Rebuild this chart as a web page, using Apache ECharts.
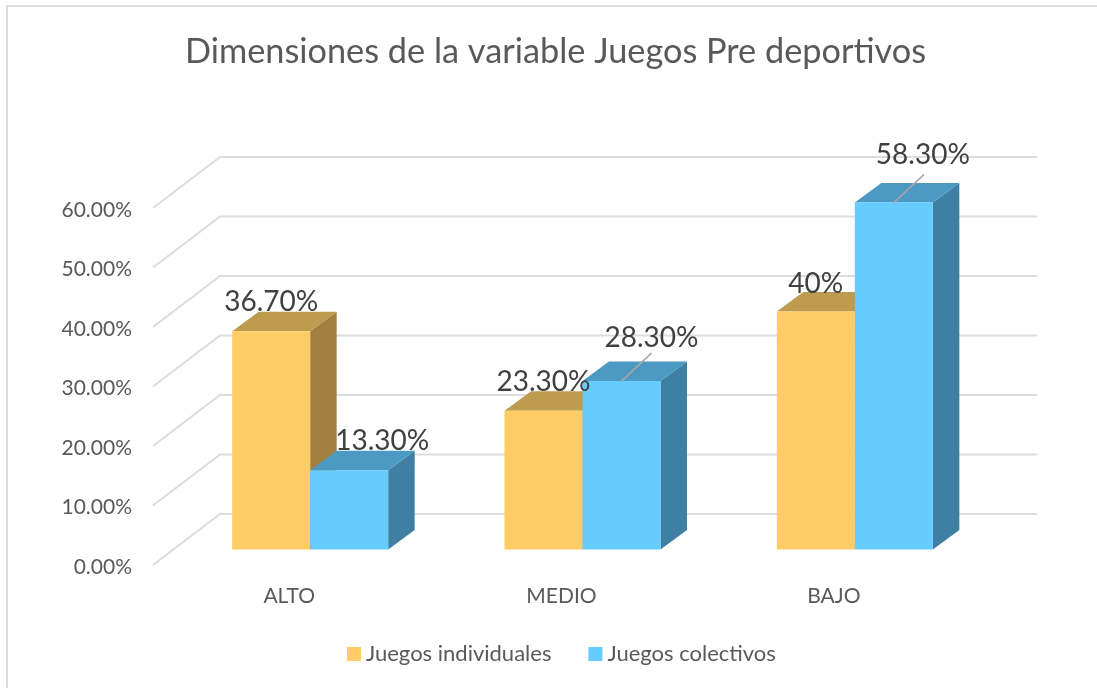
<!DOCTYPE html>
<html>
<head>
<meta charset="utf-8">
<title>Dimensiones de la variable Juegos Pre deportivos</title>
<script src="https://cdn.jsdelivr.net/npm/echarts@6/dist/echarts.min.js"></script>
<style>
  html, body { margin: 0; padding: 0; background: #fff; }
  #chart { width: 1097px; height: 688px; }
</style>
</head>
<body>
<div id="chart"></div>
<script>
const categories = ['ALTO', 'MEDIO', 'BAJO'];
const individuales = [36.7, 23.3, 40];
const colectivos = [13.3, 28.3, 58.3];
const individualesLabels = ['36.70%', '23.30%', '40%'];
const colectivosLabels = ['13.30%', '28.30%', '58.30%'];
const yTicks = [0, 10, 20, 30, 40, 50, 60];

// label placement relative to the top centre of each bar's front face
const individualesLabelPos = [[0, -29], [0, -29], [0, -28]];
const colectivosLabelPos = [[33, -29], [30, -43], [29, -48]];
// only these get a leader line
const colectivosLeader = [false, true, true];

const FONT = 'Lato, "Open Sans", sans-serif';
const WALL = [67, -51];    // back wall offset from the front plane
const FLOOR = [21, -15.5]; // bar front offset from the front plane
const DEPTH = [26.5, -19.5];
const BAR_W = 78;

const orange = { front: '#FFCC66', top: '#BF9B50', side: '#A37F40' };
const blue = { front: '#66CCFF', top: '#4C9AC3', side: '#3F7FA4' };

function poly(points, fill) {
  return { type: 'polygon', shape: { points }, style: { fill } };
}

// one 3D column, side = -1 left of the category centre, 0 right of it
function barRenderer(col, side) {
  return function (params, api) {
    const base = api.coord([api.value(0), 0]);
    const top = api.coord([api.value(0), api.value(1)]);
    const x0 = base[0] + FLOOR[0] + side * BAR_W;
    const x1 = x0 + BAR_W;
    const y0 = base[1] + FLOOR[1];
    const y1 = top[1] + FLOOR[1];
    const dx = DEPTH[0], dy = DEPTH[1];
    return {
      type: 'group',
      children: [
        poly([[x1, y0], [x1 + dx, y0 + dy], [x1 + dx, y1 + dy], [x1, y1]], col.side),
        poly([[x0, y1], [x1, y1], [x1 + dx, y1 + dy], [x0 + dx, y1 + dy]], col.top),
        poly([[x0, y0], [x1, y0], [x1, y1], [x0, y1]], col.front)
      ]
    };
  };
}

function labelRenderer(texts, pos, leaders, side) {
  return function (params, api) {
    const i = params.dataIndex;
    const top = api.coord([api.value(0), api.value(1)]);
    const cx = top[0] + FLOOR[0] + side * BAR_W + BAR_W / 2;
    const cy = top[1] + FLOOR[1];
    const children = [];
    if (leaders && leaders[i]) {
      children.push({
        type: 'line',
        shape: { x1: cx, y1: cy, x2: cx + 30, y2: cy - 28 },
        style: { stroke: '#A6A6A6', lineWidth: 1.5 }
      });
    }
    children.push({
      type: 'text',
      x: cx + pos[i][0],
      y: cy + pos[i][1],
      style: {
        text: texts[i],
        fill: '#404040',
        font: '28px ' + FONT,
        align: 'center',
        verticalAlign: 'middle'
      }
    });
    return { type: 'group', children };
  };
}

function wallRenderer(params, api) {
  const y = api.coord([0, api.value(1)])[1];
  const r = params.coordSys;
  return {
    type: 'polyline',
    shape: { points: [[r.x, y], [r.x + WALL[0], y + WALL[1]], [r.x + WALL[0] + r.width, y + WALL[1]]] },
    style: { stroke: '#DDDDDD', lineWidth: 2, fill: 'none' }
  };
}

const chart = echarts.init(document.getElementById('chart'));
chart.setOption({
  animation: false,
  backgroundColor: '#fff',
  title: {
    text: 'Dimensiones de la variable Juegos Pre deportivos',
    left: 180,
    top: 30,
    textStyle: { fontFamily: FONT, fontSize: 34.3, fontWeight: 'normal', color: '#595959' }
  },
  legend: {
    data: ['Juegos individuales', 'Juegos colectivos'],
    left: 347,
    top: 643,
    padding: 0,
    icon: 'rect',
    itemWidth: 14,
    itemHeight: 14,
    itemGap: 37,
    textStyle: { fontFamily: FONT, fontSize: 22, color: '#595959' }
  },
  grid: { left: 153, top: 208, width: 817, height: 357 },
  xAxis: {
    type: 'category',
    data: categories,
    axisLine: { show: false },
    axisTick: { show: false },
    axisLabel: { fontFamily: FONT, fontSize: 21, color: '#595959', margin: 21 }
  },
  yAxis: {
    type: 'value',
    min: 0,
    max: 60,
    interval: 10,
    splitLine: { show: false },
    axisLine: { show: false },
    axisTick: { show: false },
    axisLabel: {
      margin: 21,
      formatter: v => '{t|' + v.toFixed(2) + '%}',
      rich: { t: { fontFamily: FONT, fontSize: 21, color: '#595959', padding: [4, 0, 0, 0] } }
    }
  },
  graphic: [{
    type: 'polyline',
    silent: true,
    shape: { points: [[7, 688], [7, 6], [1097, 6]] },
    style: { stroke: '#DDDDDD', lineWidth: 2, fill: 'none' }
  }],
  series: [
    {
      type: 'custom', name: 'wall', silent: true, z: 1,
      renderItem: wallRenderer,
      encode: { x: 0, y: 1 },
      data: yTicks.map(t => [0, t])
    },
    {
      type: 'custom', name: 'Juegos individuales', z: 2,
      itemStyle: { color: orange.front },
      renderItem: barRenderer(orange, -1),
      encode: { x: 0, y: 1 },
      data: individuales.map((v, i) => [i, v])
    },
    {
      type: 'custom', name: 'Juegos colectivos', z: 3,
      itemStyle: { color: blue.front },
      renderItem: barRenderer(blue, 0),
      encode: { x: 0, y: 1 },
      data: colectivos.map((v, i) => [i, v])
    },
    {
      type: 'custom', name: 'labels1', silent: true, z: 5,
      renderItem: labelRenderer(individualesLabels, individualesLabelPos, null, -1),
      encode: { x: 0, y: 1 },
      data: individuales.map((v, i) => [i, v])
    },
    {
      type: 'custom', name: 'labels2', silent: true, z: 5,
      renderItem: labelRenderer(colectivosLabels, colectivosLabelPos, colectivosLeader, 0),
      encode: { x: 0, y: 1 },
      data: colectivos.map((v, i) => [i, v])
    }
  ]
});
</script>
</body>
</html>
